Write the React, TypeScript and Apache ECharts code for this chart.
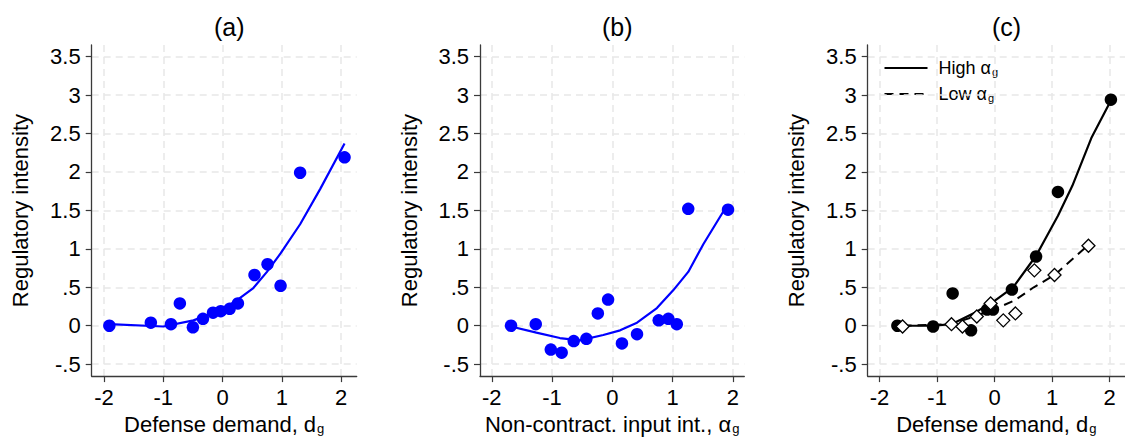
import React, { useEffect, useRef } from "react";
import * as echarts from "echarts";

const xTicks = [-2, -1, 0, 1, 2];
const yTicks = [-0.5, 0, 0.5, 1, 1.5, 2, 2.5, 3, 3.5];
const panelTitles = ["(a)", "(b)", "(c)"];
const legendNames = ["High", "Low"];

// Panel (a): defense demand
const aX = [-1.91, -1.21, -0.87, -0.72, -0.5, -0.33, -0.16, -0.03, 0.12, 0.26, 0.54, 0.76, 0.98, 1.31, 2.06];
const aY = [0.0, 0.04, 0.02, 0.29, -0.02, 0.09, 0.17, 0.19, 0.22, 0.29, 0.66, 0.8, 0.52, 1.99, 2.19];
const aFitX = [-1.91, -1.0, -0.49, -0.04, 0.24, 0.52, 0.75, 0.98, 1.31, 1.65, 2.06];
const aFitY = [0.02, -0.01, 0.07, 0.2, 0.33, 0.49, 0.7, 0.94, 1.32, 1.78, 2.37];

// Panel (b): non-contractible input intensity
const bX = [-1.68, -1.27, -1.02, -0.84, -0.64, -0.43, -0.24, -0.07, 0.16, 0.41, 0.77, 0.93, 1.07, 1.26, 1.92];
const bY = [0.0, 0.02, -0.31, -0.35, -0.2, -0.17, 0.16, 0.34, -0.23, -0.11, 0.07, 0.09, 0.02, 1.52, 1.51];
const bFitX = [-1.68, -1.26, -0.87, -0.54, -0.15, 0.13, 0.41, 0.74, 1.01, 1.26, 1.51, 1.9];
const bFitY = [-0.01, -0.09, -0.16, -0.19, -0.12, -0.06, 0.04, 0.23, 0.46, 0.7, 1.06, 1.56];

// Panel (c): high vs low alpha
const cHighX = [-1.69, -1.07, -0.73, -0.41, -0.13, -0.03, 0.3, 0.72, 1.1, 2.02];
const cHighY = [0.0, -0.01, 0.42, -0.06, 0.21, 0.21, 0.47, 0.9, 1.74, 2.94];
const cLowX = [-1.6, -0.75, -0.56, -0.31, -0.07, 0.15, 0.36, 0.69, 1.04, 1.63];
const cLowY = [-0.01, 0.02, -0.01, 0.12, 0.29, 0.07, 0.16, 0.72, 0.66, 1.04];
const cHighFitX = [-1.69, -1.07, -0.75, -0.32, 0.01, 0.32, 0.72, 1.1, 1.35, 1.68, 2.02];
const cHighFitY = [0.0, 0.0, 0.02, 0.18, 0.33, 0.5, 0.91, 1.43, 1.82, 2.44, 2.93];
const cLowFitX = [-1.6, -0.75, -0.32, 0.01, 0.35, 0.68, 1.04, 1.63];
const cLowFitY = [0.0, 0.02, 0.13, 0.22, 0.33, 0.5, 0.66, 1.05];

const FONT = "Liberation Sans, Arial, sans-serif";
const pair = (xs: number[], ys: number[]) => xs.map((x, i) => [x, ys[i]]);
const fmtY = (v: number) => (v === 0.5 ? ".5" : v === -0.5 ? "-.5" : String(v));

const subRich = {
  s: { fontSize: 13, fontFamily: FONT, color: "#000", verticalAlign: "bottom", lineHeight: 16, padding: [8, 0, 0, 1] },
};
const DASH = [9, 6];

export default function App() {
  const ref = useRef<HTMLDivElement>(null);
  useEffect(() => {
    if (!ref.current) return;
    const chart = echarts.init(ref.current, undefined, { renderer: "svg" });
    const grids = [
      { left: 91.7, width: 265, top: 45, bottom: 62 },
      { left: 480, width: 264.3, top: 45, bottom: 62 },
      { left: 867.7, width: 267.5, top: 45, bottom: 62 },
    ];
    const xRanges = [
      [-2.208, 2.265],
      [-2.195, 2.19],
      [-2.206, 2.265],
    ];
    const xNames = ["Defense demand, d{s|g}", "Non-contract. input int., α{s|g}", "Defense demand, d{s|g}"];
    const centers = [224.2, 612.2, 1001.5];

    const xAxis = grids.map((_, i) => ({
      type: "value",
      gridIndex: i,
      min: xRanges[i][0],
      max: xRanges[i][1],
      name: xNames[i],
      nameLocation: "middle",
      nameGap: 35,
      nameTextStyle: { fontSize: 22, fontFamily: FONT, color: "#000", rich: subRich },
      axisLine: { show: true, onZero: false, lineStyle: { color: "#3a3a3a", width: 1.3 } },
      axisTick: { show: true, customValues: xTicks, length: 6, lineStyle: { color: "#3a3a3a", width: 1.2 } },
      axisLabel: { customValues: xTicks, fontSize: 22, fontFamily: FONT, color: "#000", margin: 10, formatter: (v: number) => String(v) },
      splitLine: { show: true, lineStyle: { color: "#e8e8e8", type: [7, 5], width: 1.5 } },
    }));
    const yAxis = grids.map((_, i) => ({
      type: "value",
      gridIndex: i,
      min: -0.655,
      max: 3.651,
      name: "Regulatory intensity",
      nameLocation: "middle",
      nameGap: 60,
      nameTextStyle: { fontSize: 22, fontFamily: FONT, color: "#000" },
      axisLine: { show: true, onZero: false, lineStyle: { color: "#3a3a3a", width: 1.3 } },
      axisTick: { show: true, customValues: yTicks, length: 6, lineStyle: { color: "#3a3a3a", width: 1.2 } },
      axisLabel: { customValues: yTicks, fontSize: 22, fontFamily: FONT, color: "#000", margin: 11, formatter: fmtY },
      splitLine: { show: true, lineStyle: { color: "#e8e8e8", type: [7, 5], width: 1.5 } },
    }));

    const blue = "#0000ff";
    const series: any[] = [
      { type: "line", xAxisIndex: 0, yAxisIndex: 0, data: pair(aFitX, aFitY), showSymbol: false, symbol: "none", lineStyle: { color: blue, width: 2.2 }, z: 2 },
      { type: "scatter", xAxisIndex: 0, yAxisIndex: 0, data: pair(aX, aY), symbol: "circle", symbolSize: 12.5, itemStyle: { color: blue, opacity: 1 }, z: 3 },
      { type: "line", xAxisIndex: 1, yAxisIndex: 1, data: pair(bFitX, bFitY), showSymbol: false, symbol: "none", lineStyle: { color: blue, width: 2.2 }, z: 2 },
      { type: "scatter", xAxisIndex: 1, yAxisIndex: 1, data: pair(bX, bY), symbol: "circle", symbolSize: 12.5, itemStyle: { color: blue, opacity: 1 }, z: 3 },
      { name: legendNames[0], type: "line", xAxisIndex: 2, yAxisIndex: 2, data: pair(cHighFitX, cHighFitY), showSymbol: false, symbol: "none", lineStyle: { color: "#000", width: 2.2 }, z: 2 },
      { name: legendNames[1], type: "line", xAxisIndex: 2, yAxisIndex: 2, data: pair(cLowFitX, cLowFitY), showSymbol: false, symbol: "none", lineStyle: { color: "#000", width: 2, type: DASH }, z: 2 },
      { type: "scatter", xAxisIndex: 2, yAxisIndex: 2, data: pair(cHighX, cHighY), symbol: "circle", symbolSize: 12.5, itemStyle: { color: "#000", opacity: 1 }, z: 3 },
      { type: "scatter", xAxisIndex: 2, yAxisIndex: 2, data: pair(cLowX, cLowY), symbol: "diamond", symbolSize: [13, 13], itemStyle: { color: "#fff", borderColor: "#000", borderWidth: 1.3, opacity: 1 }, z: 4 },
    ];

    const legendRich = {
      t: { fontSize: 18, fontFamily: FONT, color: "#000" },
      s: { fontSize: 11, fontFamily: FONT, color: "#000", verticalAlign: "bottom", lineHeight: 12, padding: [7, 0, 0, 1] },
    };
    const graphic = legendNames.map((n, i) => ({
      type: "group",
      left: 882,
      top: 59 + i * 26,
      children: [
        { type: "line", shape: { x1: 0, y1: 10, x2: 43, y2: 10 }, style: { stroke: "#000", lineWidth: 2.2, lineDash: i === 1 ? DASH : null } },
        {
          type: "text",
          x: 54,
          y: 10,
          style: { text: `{t|${n} α}{s|g}`, rich: legendRich, verticalAlign: "middle", fill: "#000" },
        },
      ],
    }));

    chart.setOption({
      animation: false,
      backgroundColor: "#fff",
      title: panelTitles.map((t, i) => ({
        text: t,
        left: centers[i],
        top: 9,
        textAlign: "center",
        textStyle: { fontSize: 25, fontWeight: "normal", fontFamily: FONT, color: "#000" },
      })),
      grid: grids,
      xAxis,
      yAxis,
      series,
      graphic,
    });
    return () => chart.dispose();
  }, []);
  return (
    <div style={{ position: "absolute", left: 0, top: 0, width: 1125, height: 440, overflow: "hidden", background: "#fff" }}>
      <div ref={ref} style={{ width: 1125, height: 440 }} />
    </div>
  );
}
